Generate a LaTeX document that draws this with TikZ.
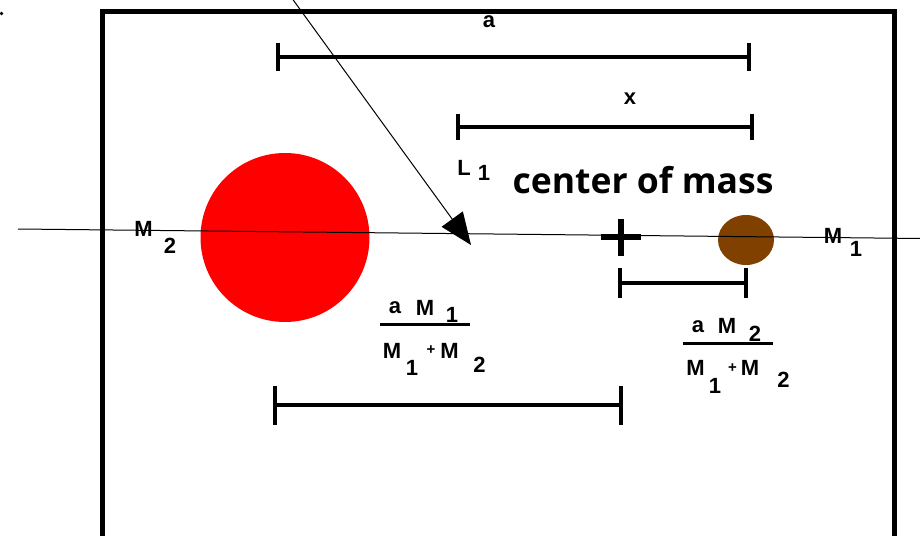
\documentclass[tikz,border=0pt]{standalone}
\usepackage{fontspec}
\setmainfont{Liberation Sans}
\newfontfamily\cmfont{Open Sans}
\usetikzlibrary{arrows.meta}
\definecolor{planetbrown}{RGB}{128,64,0}
\begin{document}
\begin{tikzpicture}[x=1pt,y=-1pt,
  lbl/.style={font=\fontsize{22}{22}\selectfont\bfseries, inner sep=0pt},
  plus/.style={font=\fontsize{15}{15}\selectfont\bfseries, inner sep=0pt},
  bar/.style={line width=4pt},
  tick/.style={line width=4pt},
  thinline/.style={line width=1pt},
  fracline/.style={line width=3pt}]
\useasboundingbox (0,0) rectangle (920,535);
% frame
\draw[line width=5pt] (102.5,545) -- (102.5,11.5) -- (894.5,11.5) -- (894.5,545);
% stray dot
\fill (1.5,13.5) circle (1.8pt);
% bodies
\fill[red] (285,237.5) circle (84.5pt) node (m2body) {};
\fill[planetbrown] (746,240) ellipse (28pt and 25pt) node (m1body) {};
% axis line
\coordinate (axL) at (18,229);
\coordinate (axR) at (922,238.5);
\draw[thinline] (axL) -- (axR);
% arrow
\coordinate (arS) at (292.5,-1);
\coordinate (arE) at (471,245);
\draw[thinline, -{Triangle[length=32pt,width=26pt]}] (arS) -- (arE);
% a bar
\coordinate (a1) at (278,57); \coordinate (a2) at (749,57);
\draw[bar] (a1) -- (a2);
\draw[tick] (278,43) -- (278,71); \draw[tick] (749,43) -- (749,71);
\node[lbl] (alab) at (489,22) {a};
% x bar
\coordinate (x1) at (458,127); \coordinate (x2) at (752,127);
\draw[bar] (x1) -- (x2);
\draw[tick] (458,114) -- (458,140); \draw[tick] (752,114) -- (752,140);
\node[lbl] (xlab) at (630,99) {x};
% L1
\node[lbl] (Llab) at (464,168) {L};
\node[lbl] (L1sub) at (484,173) {1};
% center of mass
\node[inner sep=0pt] (com) at (643,180) {\resizebox{261pt}{!}{\cmfont\bfseries center of mass}};
% plus sign
\draw[line width=6pt] (601,237) -- (641,237);
\draw[line width=6pt] (621,219) -- (621,256);
% small bar
\coordinate (s1) at (620,283); \coordinate (s2) at (746,283);
\draw[bar] (s1) -- (s2);
\draw[tick] (620,268) -- (620,298); \draw[tick] (746,268) -- (746,298);
% bottom bar
\coordinate (b1) at (275,405); \coordinate (b2) at (621,405);
\draw[bar] (b1) -- (b2);
\draw[tick] (275,386) -- (275,425); \draw[tick] (621,386) -- (621,425);
% M2 / M1 labels
\node[lbl] (M2a) at (143.5,228.5) {M};
\node[lbl] (M2b) at (170,246) {2};
\node[lbl] (M1a) at (833,236) {M};
\node[lbl] (M1b) at (856,249) {1};
% fraction 1
\node[lbl] (f1a) at (395,308) {a};
\node[lbl] (f1M) at (425,307.5) {M};
\node[lbl] (f1s) at (452,315) {1};
\coordinate (f1l) at (380,324.5); \coordinate (f1r) at (470,324.5);
\draw[fracline] (f1l) -- (f1r);
\node[lbl] (f1dM) at (392,351) {M};
\node[lbl] (f1d1) at (412,368) {1};
\node[plus] (f1p) at (431,350) {+};
\node[lbl] (f1dM2) at (449.5,350.5) {M};
\node[lbl] (f1d2) at (479.5,364.5) {2};
% fraction 2
\node[lbl] (f2a) at (698,327) {a};
\node[lbl] (f2M) at (727,326) {M};
\node[lbl] (f2s) at (755,334) {2};
\coordinate (f2l) at (683,343); \coordinate (f2r) at (773,343);
\draw[fracline] (f2l) -- (f2r);
\node[lbl] (f2dM) at (695.5,368) {M};
\node[lbl] (f2d1) at (715,386) {1};
\node[plus] (f2p) at (732.5,368.5) {+};
\node[lbl] (f2dM2) at (750,367.5) {M};
\node[lbl] (f2d2) at (783.5,380) {2};
\end{tikzpicture}
\end{document}
